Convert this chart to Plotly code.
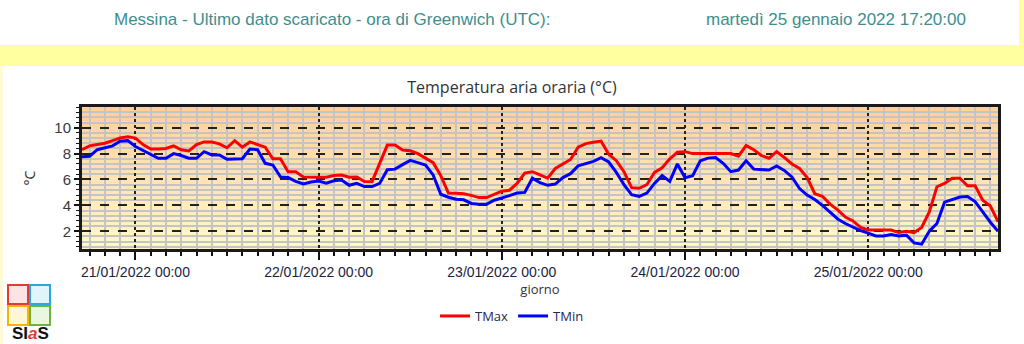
import plotly.graph_objects as go
import pandas as pd

# ---------------- data (hourly, from 20/01/2022 17:00 UTC) ----------------
start_time = "2022-01-20 17:00"
series_names = ["TMax", "TMin"]
series_colors = ["#FF0000", "#0000FF"]

tmax = [8.3, 8.6, 8.7, 8.8, 9.0, 9.2, 9.3,
        9.2, 8.7, 8.35, 8.35, 8.4, 8.6, 8.3, 8.2, 8.7, 8.9, 8.9, 8.75, 8.45, 9.0, 8.5, 8.9, 8.7, 8.5, 7.6, 7.6, 6.6, 6.6, 6.2, 6.17,
        6.17, 6.17, 6.3, 6.35, 6.17, 6.2, 5.85, 5.83, 7.2, 8.66, 8.66, 8.28, 8.22, 8.0, 7.65, 7.3, 6.3, 4.95, 4.93, 4.9, 4.77, 4.6, 4.6, 4.85,
        5.1, 5.17, 5.7, 6.5, 6.6, 6.35, 6.1, 6.85, 7.2, 7.55, 8.5, 8.77, 8.87, 8.97, 7.95, 7.45, 6.6, 5.37, 5.32, 5.6, 6.55, 6.9, 7.6, 8.1,
        8.15, 8.0, 8.0, 8.0, 8.0, 8.0, 8.0, 7.8, 8.62, 8.3, 7.85, 7.64, 8.15, 7.7, 7.2, 6.85, 6.15, 4.9, 4.7, 4.1, 3.65, 3.1, 2.8, 2.3,
        2.1, 2.1, 2.1, 2.1, 1.9, 2.0, 1.9, 2.3, 3.5, 5.44, 5.7, 6.1, 6.1, 5.52, 5.52, 4.4, 3.95, 2.74]

tmin = [7.76, 7.8, 8.3, 8.46, 8.6, 8.95, 9.0,
        8.55, 8.25, 8.0, 7.64, 7.64, 8.0, 7.85, 7.64, 7.64, 8.15, 7.9, 7.9, 7.56, 7.56, 7.6, 8.35, 8.3, 7.25, 7.12, 6.2, 6.15, 5.85, 5.65, 5.8,
        5.88, 5.72, 5.9, 5.96, 5.55, 5.7, 5.45, 5.45, 5.7, 6.75, 6.8, 7.15, 7.48, 7.3, 7.12, 6.35, 4.86, 4.63, 4.47, 4.43, 4.15, 4.08, 4.08, 4.4,
        4.55, 4.75, 4.95, 5.0, 6.1, 5.75, 5.55, 5.65, 6.15, 6.45, 7.05, 7.22, 7.4, 7.68, 7.35, 6.55, 5.6, 4.82, 4.7, 4.95, 5.7, 6.3, 5.85, 7.2,
        6.14, 6.3, 7.45, 7.65, 7.7, 7.25, 6.6, 6.73, 7.45, 6.8, 6.75, 6.73, 7.04, 6.7, 6.2, 5.3, 4.8, 4.45, 4.0, 3.45, 2.95, 2.6, 2.3, 2.05,
        1.86, 1.64, 1.64, 1.75, 1.64, 1.7, 1.1, 1.0, 2.0, 2.6, 4.25, 4.43, 4.65, 4.68, 4.3, 3.5, 2.7, 2.0]

times = pd.date_range(start_time, periods=len(tmax), freq="h")

header_left = "Messina - Ultimo dato scaricato - ora di Greenwich (UTC):"
header_right = "martedì 25 gennaio 2022 17:20:00"
chart_title = "Temperatura aria oraria (°C)"
x_title = "giorno"
y_title = "°C"

# ---------------- layout geometry ----------------
W, H = 1024, 344
L, R, T, B = 82, 26, 107, 95
PW, PH = W - L - R, H - T - B


def px(xp):
    return (xp - L) / PW


def py(yp):
    return (H - B - yp) / PH


fig = go.Figure()
for name, vals, col in zip(series_names, [tmax, tmin], series_colors):
    fig.add_trace(go.Scatter(x=times, y=vals, mode="lines", name=name,
                             line=dict(color=col, width=3)))

shapes = []
# gradient background inside the plot (peach at top -> pale yellow at bottom)
top_c = (255, 206, 158)
bot_c = (255, 249, 202)
N = 40
for i in range(N):
    f = i / (N - 1)
    c = tuple(round(bot_c[k] + (top_c[k] - bot_c[k]) * f) for k in range(3))
    shapes.append(dict(type="rect", xref="x domain", yref="y domain",
                       x0=0, x1=1, y0=i / N, y1=(i + 1) / N,
                       fillcolor="rgb(%d,%d,%d)" % c, line=dict(width=0),
                       layer="below"))
# yellow header band
shapes.append(dict(type="rect", xref="paper", yref="paper",
                   x0=px(0), x1=px(W), y0=py(66), y1=py(45),
                   fillcolor="#FFFFA0", line=dict(width=0), layer="below"))
# thin side borders
shapes.append(dict(type="rect", xref="paper", yref="paper",
                   x0=px(0), x1=px(3), y0=py(H), y1=py(66),
                   fillcolor="#FFFBD8", line=dict(width=0), layer="below"))
shapes.append(dict(type="rect", xref="paper", yref="paper",
                   x0=px(1019), x1=px(W), y0=py(45), y1=py(0),
                   fillcolor="#FFFFA0", line=dict(width=0), layer="below"))
# SIAS logo squares
logo = [(8, 285, "#E53935", "#FCE4E4"), (30, 285, "#29A8E0", "#E1F4FC"),
        (8, 306, "#F4B400", "#FFF6D6"), (30, 306, "#6CB33F", "#EAF6E0")]
for (lx, ly, lc, fc) in logo:
    shapes.append(dict(type="rect", xref="paper", yref="paper",
                       x0=px(lx), x1=px(lx + 20), y0=py(ly + 19), y1=py(ly),
                       fillcolor=fc, line=dict(color=lc, width=2)))

annotations = [
    dict(text=header_left, xref="paper", yref="paper", x=px(332), y=py(20),
         showarrow=False, xanchor="center", yanchor="middle",
         font=dict(family="Liberation Sans", size=17, color="#3E8E8E")),
    dict(text=header_right, xref="paper", yref="paper", x=px(836), y=py(20),
         showarrow=False, xanchor="center", yanchor="middle",
         font=dict(family="Liberation Sans", size=17, color="#3E8E8E")),
    dict(text="<b>SI<span style='color:#E53935'><i>a</i></span>S</b>", xref="paper", yref="paper",
         x=px(30), y=py(333), showarrow=False, xanchor="center", yanchor="middle",
         font=dict(family="Liberation Sans", size=17, color="#111111")),
]

fig.update_layout(
    width=W, height=H,
    margin=dict(l=L, r=R, t=T, b=B),
    paper_bgcolor="white",
    plot_bgcolor="rgb(255,230,180)",
    title=dict(text=chart_title, x=0.5, xanchor="center", y=1 - 87 / H, yanchor="middle",
               font=dict(family="Open Sans", size=16, color="#333333")),
    shapes=shapes,
    annotations=annotations,
    showlegend=True,
    legend=dict(orientation="h", x=px(512), xanchor="center", y=py(316), yanchor="middle",
                font=dict(family="Open Sans", size=13, color="#2B2550"),
                bgcolor="rgba(0,0,0,0)", itemwidth=30, tracegroupgap=0),
)

fig.update_xaxes(
    type="date",
    range=[times[0], times[-1]],
    tick0="2022-01-21 00:00", dtick=86400000,
    tickformat="%d/%m/%Y %H:%M",
    tickfont=dict(family="Liberation Sans", size=14, color="#1C2340"),
    ticks="outside", ticklen=8, tickwidth=2, tickcolor="#111111",
    showgrid=True, gridcolor="#222222", gridwidth=1.5, griddash="dot",
    minor=dict(dtick=7200000, tick0="2022-01-21 00:00", ticks="outside", ticklen=4,
               tickwidth=1.5, tickcolor="#111111", showgrid=True,
               gridcolor="#C4C4C4", gridwidth=1.5, griddash="solid"),
    showline=True, linecolor="#1A1A1A", linewidth=3, mirror=True,
    title=dict(text=x_title, standoff=4,
               font=dict(family="Open Sans", size=13, color="#333333")),
    zeroline=False,
)

fig.update_yaxes(
    range=[0.63, 11.6],
    tick0=0, dtick=2,
    tickfont=dict(family="Liberation Sans", size=15, color="#3A3A3A"),
    ticks="outside", ticklen=5, tickwidth=2, tickcolor="#111111",
    showgrid=True, gridcolor="#222222", gridwidth=1.5, griddash="dash",
    minor=dict(dtick=0.4, tick0=0, ticks="outside", ticklen=3, tickwidth=1,
               tickcolor="#111111", showgrid=True, gridcolor="#C4C4C4", gridwidth=1.5,
               griddash="solid"),
    showline=True, linecolor="#1A1A1A", linewidth=3, mirror=True,
    title=dict(text=y_title, standoff=16,
               font=dict(family="Open Sans", size=14, color="#333333")),
    zeroline=False,
)

fig.write_html("out.html")
